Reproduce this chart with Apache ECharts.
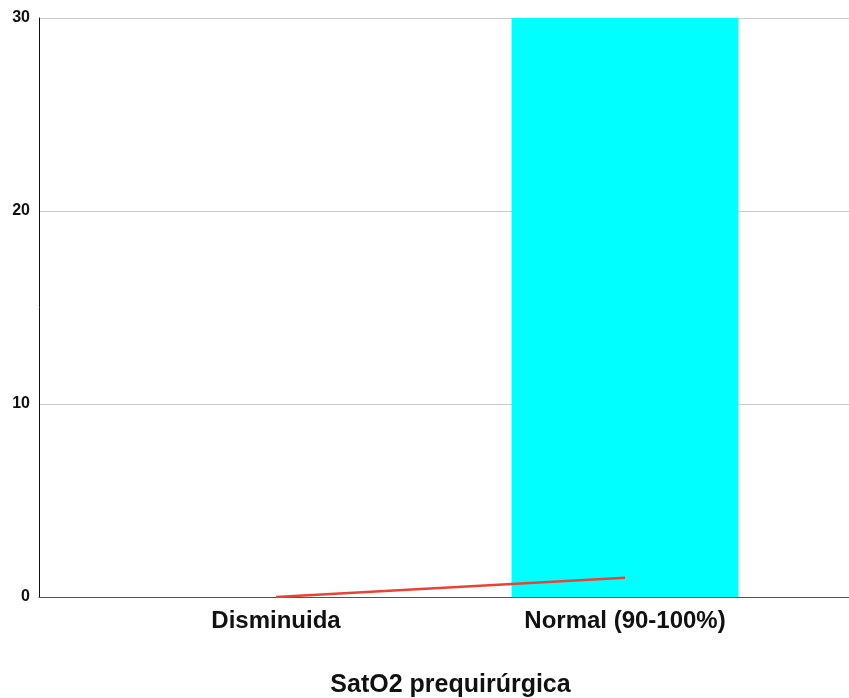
<!DOCTYPE html>
<html>
<head>
<meta charset="utf-8">
<script src="https://cdn.jsdelivr.net/npm/echarts@6/dist/echarts.min.js"></script>
<style>
  html, body { margin: 0; padding: 0; background: #fff; }
  #chart { width: 849px; height: 698px; }
</style>
</head>
<body>
<div id="chart"></div>
<script>
// SatO2 prequirúrgica: counts per category
const categories = ['Disminuida', 'Normal (90-100%)'];
const barValues = [0, 30];
const lineValues = [0, 1];
const yTicks = [0, 10, 20, 30];
const axisName = 'SatO2 prequirúrgica';

const font = 'Liberation Sans, Arial, sans-serif';
const chart = echarts.init(document.getElementById('chart'));

chart.setOption({
  animation: false,
  backgroundColor: '#ffffff',
  grid: [
    // frame: value axis, gridlines and baseline
    { left: 39, right: 0, top: 18, bottom: 101, containLabel: false, outerBoundsMode: 'none' },
    // plotting area for the two categories
    { left: 101.5, right: 49.5, top: 18, bottom: 101, containLabel: false, outerBoundsMode: 'none' }
  ],
  xAxis: [
    {
      gridIndex: 0, type: 'value', min: 0, max: 1,
      axisLine: { show: true, onZero: false, lineStyle: { color: '#555', width: 1 } },
      axisTick: { show: false }, axisLabel: { show: false }, splitLine: { show: false }
    },
    {
      gridIndex: 1, type: 'category', data: categories,
      axisLine: { show: false }, axisTick: { show: false },
      axisLabel: { margin: 12, fontSize: 24, fontWeight: 'bold', color: '#111', fontFamily: font },
      name: axisName, nameLocation: 'middle', nameGap: 76,
      nameTextStyle: { fontSize: 25, fontWeight: 'bold', color: '#111', fontFamily: font }
    }
  ],
  yAxis: [
    {
      gridIndex: 0, type: 'value', min: yTicks[0], max: yTicks[yTicks.length - 1], interval: 10,
      axisLine: { show: true, lineStyle: { color: '#111', width: 1 } },
      axisTick: { show: false },
      axisLabel: { margin: 9, fontSize: 16, fontWeight: 'bold', color: '#111', fontFamily: font },
      splitLine: { show: true, lineStyle: { color: '#cccccc', width: 1 } }
    },
    {
      gridIndex: 1, type: 'value', min: yTicks[0], max: yTicks[yTicks.length - 1], interval: 10,
      show: false, splitLine: { show: false }
    }
  ],
  series: [
    {
      type: 'bar', xAxisIndex: 1, yAxisIndex: 1,
      data: barValues, barWidth: '65%',
      itemStyle: { color: '#00ffff' }
    },
    {
      type: 'line', xAxisIndex: 1, yAxisIndex: 1,
      data: lineValues, symbol: 'none',
      lineStyle: { color: '#ea4335', width: 2.5 }
    }
  ]
});
</script>
</body>
</html>
